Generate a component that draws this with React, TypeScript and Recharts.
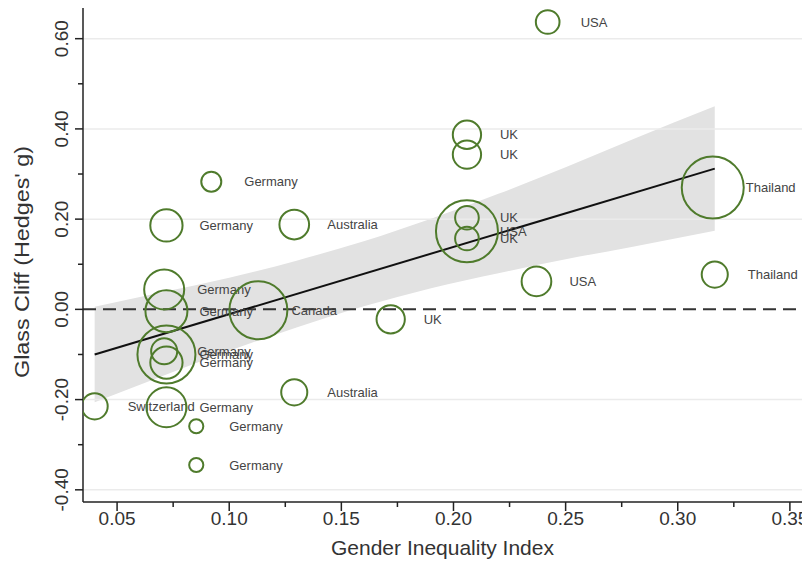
import React from 'react';
import {
  ComposedChart, Area, Line, Scatter, XAxis, YAxis, ZAxis, ReferenceLine,
} from 'recharts';

// study-level effects
const countries = [
  'USA', 'UK', 'UK', 'UK', 'USA', 'UK', 'Thailand', 'Thailand', 'USA', 'UK',
  'Germany', 'Germany', 'Australia', 'Germany', 'Germany', 'Canada',
  'Germany', 'Germany', 'Germany', 'Switzerland', 'Germany', 'Australia', 'Germany', 'Germany',
];
const gii = [
  0.242, 0.206, 0.206, 0.206, 0.206, 0.206, 0.3156, 0.3165, 0.237, 0.172,
  0.092, 0.072, 0.129, 0.071, 0.072, 0.113,
  0.071, 0.072, 0.072, 0.040, 0.072, 0.129, 0.0853, 0.0853,
];
const hedgesG = [
  0.637, 0.387, 0.343, 0.203, 0.173, 0.157, 0.270, 0.077, 0.062, -0.022,
  0.283, 0.186, 0.188, 0.044, -0.004, -0.002,
  -0.093, -0.100, -0.118, -0.215, -0.217, -0.184, -0.259, -0.345,
];
const weights = [
  14, 20, 20, 14, 96, 14, 96, 17, 22, 20,
  10, 26, 22, 40, 44, 84,
  17, 84, 26, 17, 40, 17, 5, 5,
];

// meta-regression fit and 95% band
const fitX = [0.04, 0.3165];
const fitY = [-0.10, 0.312];
const bandX = [0.04, 0.07, 0.10, 0.13, 0.16, 0.19, 0.22, 0.25, 0.28, 0.3165];
const bandLow = [-0.206, -0.148, -0.092, -0.040, 0.007, 0.047, 0.080, 0.111, 0.139, 0.174];
const bandHigh = [0.006, 0.038, 0.070, 0.108, 0.151, 0.201, 0.256, 0.315, 0.377, 0.450];

const xTicks = [0.05, 0.075, 0.10, 0.125, 0.15, 0.175, 0.20, 0.225, 0.25, 0.275, 0.30, 0.325, 0.35];
const yTicks = [-0.4, -0.3, -0.2, -0.1, 0, 0.1, 0.2, 0.3, 0.4, 0.5, 0.6];
const gridValues = [-0.4, -0.2, 0.2, 0.4, 0.6];

const GREEN = '#4f7b2c';

const points = countries.map((c, i) => ({ country: c, gii: gii[i], g: hedgesG[i], w: weights[i] }));
const bandRows = bandX.map((x, i) => {
  const k = fitX.indexOf(x);
  return { gii: x, band: [bandLow[i], bandHigh[i]], fit: k >= 0 ? fitY[k] : null };
});

const isMajor = (v: number, step: number) => Math.abs(Math.round(v / step) * step - v) < 1e-6;

const XTick = (props: any) => {
  const { x, y, payload } = props;
  const major = isMajor(payload.value, 0.05);
  return (
    <g>
      <line x1={x} x2={x} y1={y} y2={y + (major ? 9 : 5)} stroke="#222" strokeWidth={1.5} />
      {major && (
        <text x={x} y={y + 10} dy="0.71em" textAnchor="middle" fontSize={19} fill="#333">
          {payload.value.toFixed(2)}
        </text>
      )}
    </g>
  );
};

const YTick = (props: any) => {
  const { x, y, payload } = props;
  const major = isMajor(payload.value, 0.2);
  return (
    <g>
      <line x1={x} x2={x - (major ? 8 : 5)} y1={y} y2={y} stroke="#222" strokeWidth={1.5} />
      {major && (
        <text x={x - 22} y={y} dy="0.36em" textAnchor="middle" fontSize={19} fill="#333"
          transform={`rotate(-90, ${x - 22}, ${y})`}>
          {payload.value.toFixed(2)}
        </text>
      )}
    </g>
  );
};

const Bubble = (props: any) => {
  const { cx, cy, width, size, payload } = props;
  const r = width ? width / 2 : Math.sqrt((size || 0) / Math.PI);
  return (
    <g>
      <circle cx={cx} cy={cy} r={r} fill="none" stroke={GREEN} strokeWidth={2} />
      <text x={cx + 33} y={cy} dy="0.35em" fontSize={13} fill="#444">{payload.country}</text>
    </g>
  );
};

export default function App() {
  return (
    <div style={{ fontFamily: '"Liberation Sans", Arial, sans-serif', width: 802, height: 552 }}>
      <style>{'html, body { overflow: hidden; } .recharts-surface { overflow: visible; }'}</style>
      <ComposedChart width={802} height={552} data={bandRows}
        margin={{ top: 0, right: 8, bottom: 8, left: 15 }}>
        {gridValues.map(v => (
          <ReferenceLine key={v} y={v} stroke="#ebebeb" strokeWidth={1.5} />
        ))}
        <XAxis type="number" dataKey="gii" domain={[0.0348, 0.3554]} ticks={xTicks} interval={0}
          allowDataOverflow tickLine={false} tickSize={0} tickMargin={0} tick={<XTick />}
          axisLine={{ stroke: '#222', strokeWidth: 1.5 }} height={50}
          label={{
            content: ({ viewBox }: any) => (
              <text x={viewBox.x + viewBox.width / 2} y={viewBox.y + 46} dy="0.35em"
                textAnchor="middle" fontSize={21} fill="#333">Gender Inequality Index</text>
            ),
          }} />
        <YAxis type="number" dataKey="g" domain={[-0.427, 0.668]} ticks={yTicks} interval={0}
          allowDataOverflow tickLine={false} tickSize={0} tickMargin={0} tick={<YTick />}
          axisLine={{ stroke: '#222', strokeWidth: 1.5 }} width={60}
          label={{
            content: ({ viewBox }: any) => {
              const tx = viewBox.x - 2;
              const ty = viewBox.y + viewBox.height / 2 + 7;
              return (
                <text x={tx} y={ty} dy="0.36em" textAnchor="middle" fontSize={21} fill="#333"
                  textLength={232} lengthAdjust="spacingAndGlyphs"
                  transform={`rotate(-90, ${tx}, ${ty})`}>Glass Cliff (Hedges' g)</text>
              );
            },
          }} />
        <ZAxis type="number" dataKey="w" domain={[0, 96]} range={[0, 3019]} />
        <Area type="monotone" dataKey="band" fill="#e2e2e2" fillOpacity={1} stroke="none"
          isAnimationActive={false} connectNulls />
        <ReferenceLine y={0} stroke="#333" strokeWidth={2} strokeDasharray="13 7" />
        <Line type="linear" dataKey="fit" stroke="#111" strokeWidth={2} dot={false}
          connectNulls isAnimationActive={false} />
        <Scatter data={points} dataKey="g" shape={<Bubble />} isAnimationActive={false} />
      </ComposedChart>
    </div>
  );
}
